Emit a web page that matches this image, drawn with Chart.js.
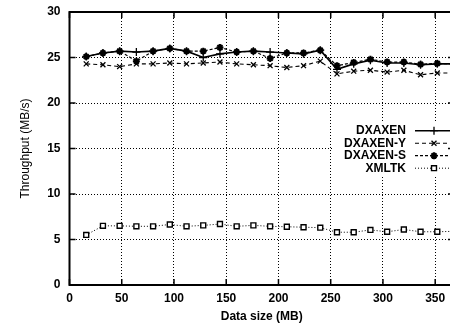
<!DOCTYPE html>
<html><head><meta charset="utf-8">
<script src="https://cdn.jsdelivr.net/npm/chart.js@4/dist/chart.umd.min.js"></script>
<style>html,body{margin:0;padding:0;overflow:hidden;background:#fff;width:450px;height:325px}canvas{display:block}</style>
</head><body>
<canvas id="c" width="460" height="325" style="width:460px;height:325px"></canvas>
<script>
const dataSizes = [16,32,48,64,80,96,112,128,144,160,176,192,208,224,240,256,272,288,304,320,336,352,368];
const dxaxen   = [25.1,25.5,25.7,25.6,25.7,26.0,25.7,25.0,25.4,25.6,25.7,25.6,25.5,25.4,25.8,23.7,24.3,24.7,24.4,24.4,24.2,24.3,24.3];
const dxaxenY  = [24.3,24.2,24.0,24.3,24.3,24.4,24.3,24.4,24.5,24.3,24.2,24.1,23.9,24.1,24.6,23.2,23.5,23.6,23.4,23.6,23.1,23.3,23.3];
const dxaxenS  = [25.1,25.5,25.7,24.6,25.7,26.0,25.7,25.7,26.1,25.6,25.7,24.9,25.5,25.5,25.8,24.1,24.45,24.8,24.5,24.5,24.25,24.35,24.3];
const xmltk    = [5.5,6.5,6.5,6.45,6.45,6.65,6.45,6.55,6.7,6.45,6.55,6.45,6.4,6.35,6.3,5.8,5.8,6.05,5.85,6.1,5.85,5.85,5.9];
const seriesNames = ['DXAXEN','DXAXEN-Y','DXAXEN-S','XMLTK'];
const xTicks = [0,50,100,150,200,250,300,350];
const yTicks = [0,5,10,15,20,25,30];

const pts = arr => dataSizes.map((x,i)=>({x:x,y:arr[i]}));
const FONT = '"Liberation Sans", Arial, Helvetica, sans-serif';

const framePlugin = {
  id:'frame',
  afterDraw(chart){
    const ctx = chart.ctx, a = chart.chartArea;
    const xs = chart.scales.x, ys = chart.scales.y;
    ctx.save();
    ctx.fillStyle = '#fff';
    ctx.fillRect(a.right-120, a.top+110, 120, 54);
    ctx.font = 'bold 12px '+FONT;
    ctx.textAlign = 'right'; ctx.textBaseline = 'middle';
    chart.data.datasets.forEach((ds,i)=>{
      const y = a.top + 118.7 + i*12.5;
      ctx.fillStyle = '#000';
      ctx.fillText(ds.label, a.right-48, y);
      ctx.beginPath();
      ctx.strokeStyle = '#000';
      ctx.lineWidth = ds.borderWidth;
      ctx.setLineDash(ds.borderDash||[]);
      ctx.moveTo(a.right-39, y); ctx.lineTo(a.right, y);
      ctx.stroke();
      ctx.setLineDash([]);
      ctx.fillStyle = ds.pointBackgroundColor || '#000';
      ctx.strokeStyle = '#000';
      ctx.lineWidth = ds.pointBorderWidth;
      Chart.helpers.drawPoint(ctx, {pointStyle: ds.pointStyle, radius: ds.pointRadius, borderWidth: ds.pointBorderWidth, rotation:0}, a.right-20, y);
    });
    ctx.setLineDash([]);
    ctx.strokeStyle = '#000';
    ctx.lineWidth = 2;
    ctx.strokeRect(a.left, a.top, a.right-a.left, a.bottom-a.top);
    ctx.lineWidth = 1.5;
    ctx.beginPath();
    xTicks.forEach(v=>{
      const px = xs.getPixelForValue(v);
      ctx.moveTo(px, a.bottom); ctx.lineTo(px, a.bottom-6);
      ctx.moveTo(px, a.top); ctx.lineTo(px, a.top+6);
    });
    yTicks.forEach(v=>{
      const py = ys.getPixelForValue(v);
      ctx.moveTo(a.left, py); ctx.lineTo(a.left+6, py);
      ctx.moveTo(a.right, py); ctx.lineTo(a.right-6, py);
    });
    ctx.stroke();
    ctx.restore();
  }
};

new Chart(document.getElementById('c'), {
  type:'line',
  data:{ datasets:[
    {label:seriesNames[0], data:pts(dxaxen), borderColor:'#000', borderWidth:1.6, pointStyle:'cross', pointRadius:4, pointBorderWidth:1.3, pointBorderColor:'#000', pointBackgroundColor:'#000', fill:false, tension:0},
    {label:seriesNames[1], data:pts(dxaxenY), borderColor:'#000', borderWidth:1.1, borderDash:[4,3], pointStyle:'crossRot', pointRadius:3.5, pointBorderWidth:1.3, pointBorderColor:'#000', pointBackgroundColor:'#000', fill:false, tension:0},
    {label:seriesNames[2], data:pts(dxaxenS), borderColor:'#000', borderWidth:1.2, borderDash:[3,2], pointStyle:'star', pointRadius:3.5, pointBorderWidth:2, pointBorderColor:'#000', pointBackgroundColor:'#000', fill:false, tension:0},
    {label:seriesNames[3], data:pts(xmltk), borderColor:'#000', borderWidth:1, borderDash:[1,2], pointStyle:'rect', pointRadius:3.5, pointBorderWidth:1.4, pointBorderColor:'#000', pointBackgroundColor:'#fff', fill:false, tension:0}
  ]},
  options:{
    responsive:false, animation:false,
    layout:{padding:{top:0,right:5,left:0,bottom:0}},
    plugins:{legend:{display:false}, tooltip:{enabled:false}},
    scales:{
      x:{type:'linear', min:0, max:368,
        afterBuildTicks(s){ s.ticks = xTicks.map(v=>({value:v})); },
        afterFit(s){ s.height = 40; },
        ticks:{color:'#000', padding:6, font:{family:FONT, size:12, weight:'bold'}, maxRotation:0, autoSkip:false},
        grid:{color:'#000', lineWidth:1, drawTicks:false},
        border:{display:false, dash:[1,2]},
        title:{display:true, text:'Data size (MB)', color:'#000', font:{family:FONT, size:12, weight:'bold'}, padding:{top:0,bottom:1}}
      },
      y:{min:0, max:30,
        afterBuildTicks(s){ s.ticks = yTicks.map(v=>({value:v})); },
        afterFit(s){ s.width = 69.5; s.paddingTop = 12; s.paddingBottom = 0; },
        ticks:{color:'#000', padding:9, font:{family:FONT, size:12, weight:'bold', lineHeight:1}},
        grid:{color:'#000', lineWidth:1, drawTicks:false},
        border:{display:false, dash:[1,2]},
        title:{display:true, text:'Throughput (MB/s)', color:'#000', font:{family:FONT, size:12}, padding:{top:18,bottom:0}}
      }
    }
  },
  plugins:[framePlugin]
});
</script>
</body></html>
